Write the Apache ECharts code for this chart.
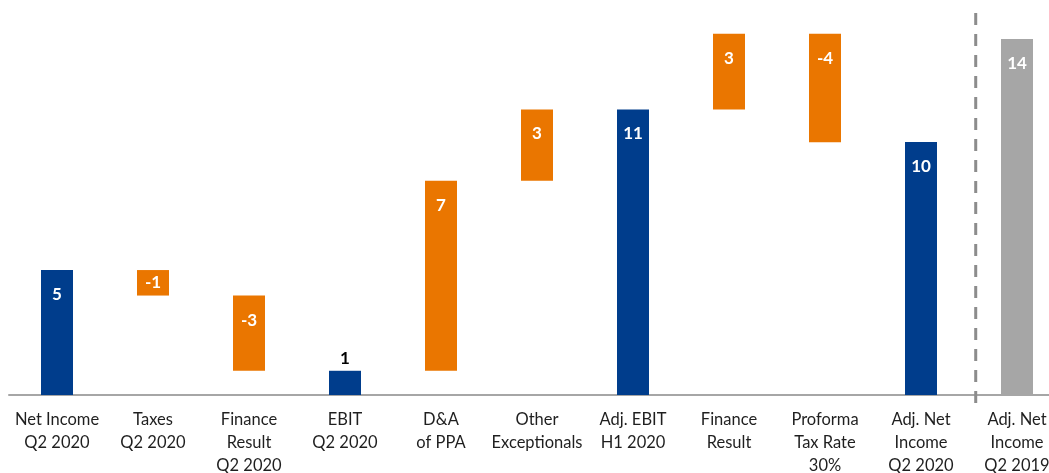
<!DOCTYPE html>
<html>
<head>
<meta charset="utf-8">
<script src="https://cdn.jsdelivr.net/npm/echarts@6/dist/echarts.min.js"></script>
<style>html,body{margin:0;padding:0;background:#fff}#c{width:1049px;height:473px}</style>
</head>
<body>
<div id="c"></div>
<script>
// Categories (axis labels)
const categories = [
  'Net Income\nQ2 2020', 'Taxes\nQ2 2020', 'Finance\nResult\nQ2 2020', 'EBIT\nQ2 2020',
  'D&A\nof PPA', 'Other\nExceptionals', 'Adj. EBIT\nH1 2020', 'Finance\nResult',
  'Proforma\nTax Rate\n30%', 'Adj. Net\nIncome\nQ2 2020', 'Adj. Net\nIncome\nQ2 2019'
];
// Values: totals are levels, deltas are changes from the running level
const values = [4.9, -1.0, -2.95, 0.95, 7.45, 2.8, 11.2, 2.97, -4.26, 9.92, 13.96];
const kinds  = ['total','delta','delta','total','delta','delta','total','delta','delta','total','prior'];
const labels = ['5', '-1', '-3', '1', '7', '3', '11', '3', '-4', '10', '14'];

const COLORS = { total: '#003D8C', delta: '#EA7600', prior: '#A6A6A6' };

const baseData = [], barData = [];
let level = 0;
values.forEach((v, i) => {
  const k = kinds[i];
  let base, h;
  if (k === 'delta') {
    const next = level + v;
    base = Math.min(level, next);
    h = Math.abs(v);
    level = next;
  } else {
    base = 0; h = v;
    if (k === 'total') level = v;
  }
  baseData.push(base);
  const item = { value: h, itemStyle: { color: COLORS[k] } };
  if (i === 3) {
    item.label = { position: 'top', distance: 4, color: '#000' };
  } else if (i === 1) {
    item.label = { position: 'inside' };
  }
  barData.push(item);
});

const chart = echarts.init(document.getElementById('c'), null, { renderer: 'canvas' });
chart.setOption({
  animation: false,
  backgroundColor: '#fff',
  grid: { left: 9, width: 1056, top: 12.5, bottom: 78, containLabel: false, outerBoundsMode: 'none' },
  xAxis: [{
    type: 'category', data: categories,
    axisLine: { lineStyle: { color: '#A6A6A6', width: 2 } },
    axisTick: { show: false },
    axisLabel: { interval: 0, color: '#1F1F1F', fontFamily: 'Lato', fontSize: 16.5, lineHeight: 23, margin: 13 }
  }, {
    type: 'value', min: 0, max: 11, show: false
  }],
  yAxis: { type: 'value', min: 0, max: 15, show: false, splitLine: { show: false } },
  series: [{
    type: 'bar', stack: 'w', data: baseData, barWidth: 32,
    itemStyle: { color: 'transparent' }, silent: true
  }, {
    type: 'bar', stack: 'w', data: barData, barWidth: 32,
    label: {
      show: true, position: 'insideTop', distance: 16,
      color: '#fff', fontFamily: 'Lato', fontWeight: 'bold', fontSize: 17,
      formatter: p => labels[p.dataIndex]
    }
  }, {
    type: 'line', xAxisIndex: 1, clip: false, symbol: 'none',
    data: [[10.07, 14.98], [10.07, -0.38]],
    lineStyle: { color: '#8C8C8C', width: 3, type: [12, 9] }
  }]
});
</script>
</body>
</html>
